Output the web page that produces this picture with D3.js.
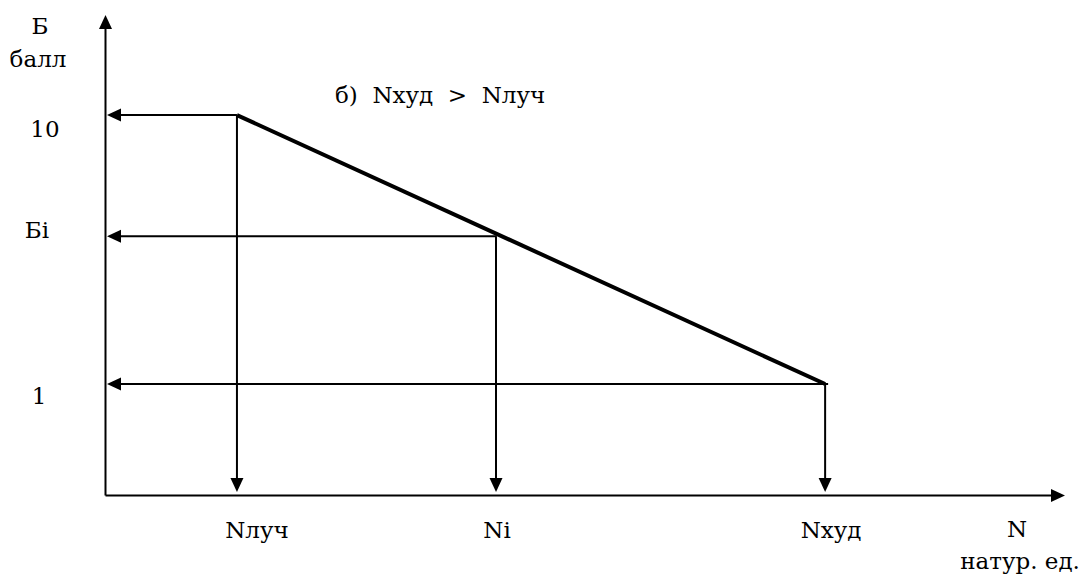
<!DOCTYPE html>
<html>
<head>
<meta charset="utf-8">
<script src="https://cdn.jsdelivr.net/npm/d3@7"></script>
<style>
  html, body { margin: 0; padding: 0; background: #fff; }
</style>
</head>
<body>
<svg id="chart" width="1083" height="575"></svg>
<script>
// ---- data ----
const xCategories = ["Nлуч", "Ni", "Nхуд"];
const xValues = [13.7, 40.7, 75.0];
const yTickLabels = ["10", "Бi", "1"];
const yValues = [10, 5.95, 1];
const xAxisMax = 100;
const yDomain = [-2.73, 13.35];
const title = "б)  Nхуд  >  Nлуч";
const yAxisTitle = ["Б", "балл"];
const xAxisTitle = ["N", "натур. ед."];

// ---- layout ----
const FONT = "DejaVu Serif";
const svg = d3.select("#chart");
const x0 = 105.5, x1 = 1065, yBottom = 495.5, yTop = 15;
const x = d3.scaleLinear().domain([0, xAxisMax]).range([x0, x1]);
const y = d3.scaleLinear().domain(yDomain).range([yBottom, yTop]);
const xLabelShift = [20, 1, 6];
const yLabelX = [45, 37, 39];
const yLabelShift = [22, 2, 20];

function arrowHead(tipX, tipY, dir, len = 14, half = 6.5) {
  let p;
  if (dir === "left") p = [[tipX, tipY], [tipX + len, tipY - half], [tipX + len, tipY + half]];
  if (dir === "right") p = [[tipX, tipY], [tipX - len, tipY - half], [tipX - len, tipY + half]];
  if (dir === "down") p = [[tipX, tipY], [tipX - half, tipY - len], [tipX + half, tipY - len]];
  if (dir === "up") p = [[tipX, tipY], [tipX - half, tipY + len], [tipX + half, tipY + len]];
  svg.append("path").attr("d", "M" + p.map(d => d.join(",")).join("L") + "Z").attr("fill", "#000");
}

// axes
svg.append("line").attr("x1", x(0)).attr("y1", yBottom).attr("x2", x(0)).attr("y2", yTop + 8)
  .attr("stroke", "#000").attr("stroke-width", 2);
arrowHead(x(0), yTop, "up");
svg.append("line").attr("x1", x(0)).attr("y1", yBottom).attr("x2", x(xAxisMax) - 8).attr("y2", yBottom)
  .attr("stroke", "#000").attr("stroke-width", 2);
arrowHead(x(xAxisMax), yBottom, "right");

// projection arrows
xValues.forEach((v, i) => {
  const px = x(v), py = y(yValues[i]);
  svg.append("line").attr("x1", px + (i === 2 ? 3 : 0)).attr("y1", py).attr("x2", x(0) + 10).attr("y2", py)
    .attr("stroke", "#000").attr("stroke-width", 2);
  arrowHead(x(0) + 1.5, py, "left");
  svg.append("line").attr("x1", px).attr("y1", py).attr("x2", px).attr("y2", yBottom - 12)
    .attr("stroke", "#000").attr("stroke-width", 2);
  arrowHead(px, yBottom - 3.5, "down");
});

// main line
const pts = xValues.map((v, i) => [x(v), y(yValues[i])]);
svg.append("path").attr("d", d3.line()([pts[0], pts[pts.length - 1]]))
  .attr("fill", "none").attr("stroke", "#000").attr("stroke-width", 4);

const fs = 23;
function label(tx, ty, t, anchor = "middle") {
  return svg.append("text").attr("x", tx).attr("y", ty)
    .attr("text-anchor", anchor).attr("font-size", fs)
    .style("font-family", FONT).attr("fill", "#000").text(t);
}
yTickLabels.forEach((t, i) => label(yLabelX[i], y(yValues[i]) + yLabelShift[i], t));
xCategories.forEach((t, i) => label(x(xValues[i]) + xLabelShift[i], 538, t));
label(40, 34, yAxisTitle[0]);
label(38, 67, yAxisTitle[1]);
label(1017, 537, xAxisTitle[0]);
label(1020, 569, xAxisTitle[1]);
label(335, 103, title, "start").attr("xml:space", "preserve").style("white-space", "pre");
</script>
</body>
</html>
